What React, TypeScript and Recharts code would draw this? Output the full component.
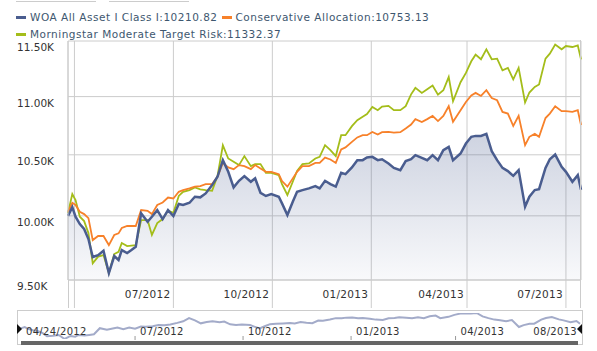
import {
  ComposedChart,
  Line,
  Area,
  XAxis,
  YAxis,
  CartesianGrid,
} from "recharts";

// days since 04/24/2012
const START = Date.UTC(2012, 3, 24);
const DAYS = [
  0, 4, 7, 11, 15, 19, 23, 28, 33, 38,
  43, 47, 50, 55, 59, 63, 68, 74, 78, 83,
  88, 93, 98, 103, 107, 113, 118, 123, 128, 134,
  139, 144, 149, 154, 159, 164, 170, 174, 179, 184,
  189, 196, 199, 204, 209, 213, 218, 224, 230, 234,
  239, 244, 249, 254, 258, 264, 269, 274, 278, 283,
  288, 292, 298, 303, 309, 314, 319, 323, 329, 334,
  339, 344, 349, 354, 358, 365, 370, 375, 379, 384,
  389, 394, 399, 404, 409, 414, 419, 425, 429, 434,
  438, 444, 448, 453, 459, 463, 469, 474, 477,
];

const WOA = [
  10000, 10070, 9993, 9934, 9895, 9816, 9676, 9691, 9725, 9553,
  9684, 9653, 9730, 9707, 9730, 9756, 10020, 9952, 9993, 10046,
  9974, 10046, 9998, 10095, 10087, 10105, 10154, 10149, 10181, 10249,
  10317, 10455, 10358, 10230, 10284, 10323, 10276, 10304, 10186, 10160,
  10176, 10154, 10100, 10006, 10113, 10194, 10208, 10222, 10241, 10222,
  10284, 10257, 10236, 10350, 10339, 10394, 10455, 10455, 10477, 10483,
  10455, 10463, 10427, 10391, 10372, 10447, 10463, 10497, 10474, 10455,
  10497, 10455, 10539, 10567, 10455, 10511, 10595, 10652, 10660, 10660,
  10677, 10530, 10455, 10391, 10364, 10325, 10372, 10073, 10154, 10208,
  10216, 10391, 10463, 10502, 10400, 10358, 10276, 10331, 10210.82,
];

const CONSERVATIVE = [
  10032, 10105, 10087, 10032, 10014, 9982, 9808, 9840, 9840, 9769,
  9848, 9861, 9903, 9919, 9919, 9919, 10046, 10040, 10014, 10087,
  10107, 10147, 10140, 10194, 10208, 10222, 10236, 10241, 10257, 10257,
  10317, 10432, 10395, 10380, 10414, 10405, 10380, 10414, 10386, 10358,
  10358, 10339, 10282, 10236, 10304, 10358, 10405, 10405, 10432, 10432,
  10477, 10461, 10432, 10545, 10562, 10609, 10647, 10666, 10666, 10694,
  10672, 10692, 10694, 10687, 10692, 10723, 10757, 10804, 10778, 10804,
  10832, 10787, 10832, 10916, 10781, 10881, 10953, 11011, 11033, 11006,
  11056, 10988, 10968, 10866, 10852, 10746, 10832, 10581, 10652, 10677,
  10652, 10813, 10852, 10916, 10873, 10873, 10866, 10881, 10753.13,
];

const MODERATE = [
  10022, 10176, 10127, 9993, 9958, 9863, 9628, 9679, 9691, 9553,
  9699, 9717, 9785, 9761, 9765, 9769, 9966, 9966, 9848, 9942,
  9974, 10042, 10024, 10160, 10194, 10208, 10230, 10214, 10208, 10202,
  10323, 10580, 10469, 10441, 10414, 10489, 10405, 10422, 10422, 10350,
  10350, 10331, 10257, 10168, 10276, 10366, 10422, 10428, 10469, 10483,
  10581, 10539, 10489, 10666, 10666, 10743, 10795, 10824, 10847, 10910,
  10881, 10912, 10919, 10881, 10881, 10916, 11020, 11077, 11032, 11065,
  11097, 11017, 11056, 11173, 10959, 11127, 11210, 11315, 11375, 11333,
  11424, 11333, 11339, 11234, 11255, 11153, 11255, 10948, 11036, 11086,
  11107, 11339, 11384, 11467, 11424, 11454, 11445, 11460, 11332.37,
];

const SERIES = [
  { key: "woa", name: "WOA All Asset I Class I", color: "#4a5d8f", values: WOA },
  { key: "cons", name: "Conservative Allocation", color: "#f7812a", values: CONSERVATIVE },
  { key: "mod", name: "Morningstar Moderate Target Risk", color: "#a4bd1a", values: MODERATE },
];

const Y_TICKS = [9500, 10000, 10500, 11000, 11500];
// month-end gridlines
const X_TICKS = [6, 98, 190, 282, 371, 463];
const X_LABELS = ["", "07/2012", "10/2012", "01/2013", "04/2013", "07/2013"];
const NAV_TICKS = [0, 98, 190, 282, 371, 477];
const NAV_LABELS = ["04/24/2012", "07/2012", "10/2012", "01/2013", "04/2013", "08/2013"];

const data = DAYS.map((d, i) => ({
  day: d,
  date: START + d * 86400000,
  woa: WOA[i],
  cons: CONSERVATIVE[i],
  mod: MODERATE[i],
}));

const navDomain = [Math.min(...WOA), Math.max(...WOA)];

const FONT = "'DejaVu Sans', Verdana, sans-serif";
const GRID = "#cccccc";

function YTick(props: any) {
  const { y, payload } = props;
  return (
    <text x={17} y={y + 10} fontSize={10.5} fill="#333" fontFamily={FONT}>
      {(payload.value / 1000).toFixed(2)}K
    </text>
  );
}

function MainXTick(props: any) {
  const { x, y, index } = props;
  return (
    <g>
      <line x1={x} x2={x} y1={y} y2={y + 28} stroke={GRID} />
      <text
        x={x - 3}
        y={y + 18}
        textAnchor="end"
        fontSize={10.5}
        letterSpacing={0.3}
        fill="#333"
        fontFamily={FONT}
      >
        {X_LABELS[index]}
      </text>
    </g>
  );
}

function NavTick(props: any) {
  const { x, y, index } = props;
  const last = index === NAV_TICKS.length - 1;
  if (index === 0 || last) {
    return (
      <text
        x={last ? x - 3 : x + 6}
        y={y - 4}
        textAnchor={last ? "end" : "start"}
        fontSize={10}
        letterSpacing={0.3}
        fill="#333"
        fontFamily={FONT}
      >
        {NAV_LABELS[index]}
      </text>
    );
  }
  return (
    <g>
      <line x1={x} x2={x} y1={y - 3} y2={y + 1} stroke="#999" />
      <text x={x + 5} y={y - 4} fontSize={10} letterSpacing={0.3} fill="#333" fontFamily={FONT}>
        {NAV_LABELS[index]}
      </text>
    </g>
  );
}

function LegendItem({ color, text }: { color: string; text: string }) {
  return (
    <span style={{ display: "inline-flex", alignItems: "center", marginRight: 4 }}>
      <span style={{ display: "inline-block", width: 10, height: 3, background: color, marginRight: 4 }} />
      <span>{text}</span>
    </span>
  );
}

export default function App() {
  const last = (arr: number[]) => arr[arr.length - 1].toFixed(2);
  return (
    <div
      style={{
        position: "absolute",
        left: 0,
        top: 0,
        width: 597,
        height: 351,
        background: "#fff",
        overflow: "hidden",
        fontFamily: FONT,
      }}
    >
      <div style={{ position: "absolute", left: 16, top: 1, width: 80, height: 1, background: "#ccc" }} />
      <div style={{ position: "absolute", left: 109, top: 1, width: 80, height: 1, background: "#ccc" }} />

      <div
        style={{
          position: "absolute",
          left: 16,
          top: 8,
          fontSize: 10.5,
          letterSpacing: 0.5,
          lineHeight: "15px",
          color: "#3E576F",
          whiteSpace: "nowrap",
        }}
      >
        <div>
          <LegendItem color={SERIES[0].color} text={`${SERIES[0].name}:${last(WOA)}`} />
          <LegendItem color={SERIES[1].color} text={`${SERIES[1].name}:${last(CONSERVATIVE)}`} />
        </div>
        <div>
          <LegendItem color={SERIES[2].color} text={`${SERIES[2].name}:${last(MODERATE)}`} />
        </div>
      </div>

      <div style={{ position: "absolute", left: 0, top: 0 }}>
        <ComposedChart
          width={597}
          height={308}
          data={data}
          margin={{ top: 41, right: 16, bottom: 0, left: 0 }}
        >
          <defs>
            <linearGradient id="woaFill" x1="0" y1="0" x2="0" y2="1">
              <stop offset="0%" stopColor="#4a5d8f" stopOpacity={0.45} />
              <stop offset="100%" stopColor="#4a5d8f" stopOpacity={0.06} />
            </linearGradient>
          </defs>
          <CartesianGrid stroke={GRID} />
          <XAxis
            dataKey="day"
            type="number"
            domain={[0, 477]}
            ticks={X_TICKS}
            interval={0}
            height={28}
            tickSize={0}
            tickMargin={0}
            tickLine={false}
            axisLine={{ stroke: GRID }}
            tick={<MainXTick />}
          />
          <YAxis
            type="number"
            scale="log"
            domain={[9500, 11500]}
            ticks={Y_TICKS}
            interval={0}
            allowDataOverflow
            width={68}
            axisLine={{ stroke: GRID }}
            tickLine={false}
            tick={<YTick />}
          />
          <Area
            type="linear"
            dataKey="woa"
            stroke="none"
            fill="url(#woaFill)"
            baseValue="dataMin"
            isAnimationActive={false}
          />
          <Line type="linear" dataKey="mod" stroke={SERIES[2].color} strokeWidth={1.8} dot={false} isAnimationActive={false} />
          <Line type="linear" dataKey="cons" stroke={SERIES[1].color} strokeWidth={1.8} dot={false} isAnimationActive={false} />
          <Line type="linear" dataKey="woa" stroke={SERIES[0].color} strokeWidth={2.5} dot={false} isAnimationActive={false} />
        </ComposedChart>
      </div>

      <div style={{ position: "absolute", left: 580, top: 40, width: 1, height: 268, background: GRID }} />
      <div style={{ position: "absolute", left: 68, top: 280, width: 1, height: 28, background: GRID }} />

      <div
        style={{
          position: "absolute",
          left: 17,
          top: 310,
          width: 564,
          height: 33,
          border: "1px solid #ccc",
        }}
      />
      <div style={{ position: "absolute", left: 21, top: 341, width: 557, height: 4, background: "#666" }} />

      <div style={{ position: "absolute", left: 0, top: 306 }}>
        <ComposedChart
          width={597}
          height={40}
          data={data}
          margin={{ top: 7, right: 17, bottom: 0, left: 20 }}
        >
          <XAxis
            dataKey="day"
            type="number"
            domain={[0, 477]}
            ticks={NAV_TICKS}
            interval={0}
            height={7}
            tickSize={0}
            tickMargin={0}
            tickLine={false}
            axisLine={false}
            tick={<NavTick />}
          />
          <YAxis hide type="number" domain={navDomain} allowDataOverflow />
          <Line type="linear" dataKey="woa" stroke="#a3abc9" strokeWidth={2} dot={false} isAnimationActive={false} />
        </ComposedChart>
      </div>

      <svg width={597} height={351} style={{ position: "absolute", left: 0, top: 0, pointerEvents: "none" }}>
        <path d="M17,324 L22,329 L17,334 Z" fill="#111" />
        <path d="M582,324 L577,329 L582,334 Z" fill="#111" />
      </svg>
    </div>
  );
}
